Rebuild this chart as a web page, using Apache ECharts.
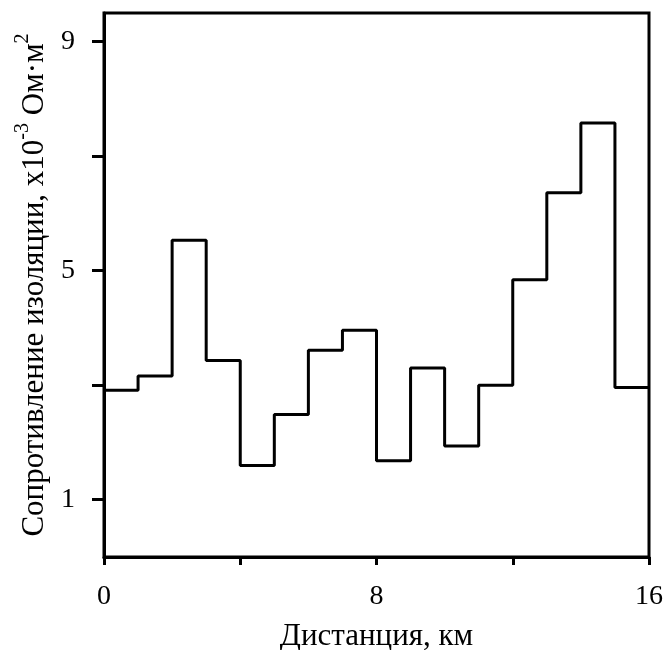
<!DOCTYPE html>
<html><head><meta charset="utf-8">
<script src="https://cdn.jsdelivr.net/npm/echarts@6/dist/echarts.min.js"></script>
<style>html,body{margin:0;padding:0;background:#fff}#c{width:668px;height:650px}</style>
</head><body><div id="c"></div>
<script>
var distanceKm = [0,1,2,3,4,5,6,7,8,9,10,11,12,13,14,15,16];
var resistance = [2.91,3.16,5.53,3.43,1.60,2.49,3.61,3.96,1.68,3.30,1.94,3.00,4.84,6.36,7.58,2.96,2.96];
var xTicks = [0,4,8,12,16];
var xLabels = [0,8,16];
var yTicks = [1,3,5,7,9];
var yLabels = [1,5,9];

var data = distanceKm.map(function(x,i){return [x,resistance[i]];});
var font = 'Liberation Serif';
var chart = echarts.init(document.getElementById('c'), null, {renderer:'canvas'});
chart.setOption({
  animation:false,
  backgroundColor:'#fff',
  grid:{left:104,right:19,top:13,bottom:93,containLabel:false,outerBoundsMode:'none',show:true,borderColor:'#000',borderWidth:3,backgroundColor:'transparent'},
  xAxis:{type:'value',min:0,max:16,
    name:'Дистанция, км',nameLocation:'middle',nameGap:64,
    nameTextStyle:{fontFamily:font,fontSize:31,color:'#000'},
    axisLine:{show:true,lineStyle:{color:'#000',width:3}},
    axisTick:{show:true,length:8,lineStyle:{color:'#000',width:3},customValues:xTicks},
    axisLabel:{show:true,margin:26,fontFamily:font,fontSize:28,color:'#000',customValues:xLabels},
    splitLine:{show:false}},
  yAxis:{type:'value',min:0,max:9.5,
    name:'{n|Сопротивление изоляции, x10}{s|-3}{n| Ом·м}{s|2}',nameLocation:'middle',nameGap:53,nameRotate:90,
    nameTextStyle:{fontFamily:font,fontSize:31,color:'#000',
      rich:{n:{fontFamily:font,fontSize:31,color:'#000',lineHeight:37,verticalAlign:'bottom'},
            s:{fontFamily:font,fontSize:20,color:'#000',lineHeight:37,verticalAlign:'top'}}},
    axisLine:{show:true,lineStyle:{color:'#000',width:3}},
    axisTick:{show:true,length:12,lineStyle:{color:'#000',width:3},customValues:yTicks},
    axisLabel:{show:true,margin:29,fontFamily:font,fontSize:28,color:'#000',customValues:yLabels},
    splitLine:{show:false}},
  series:[{type:'line',step:'end',data:data,showSymbol:false,symbol:'none',
    lineStyle:{color:'#000',width:3},clip:false}]
});
</script></body></html>
